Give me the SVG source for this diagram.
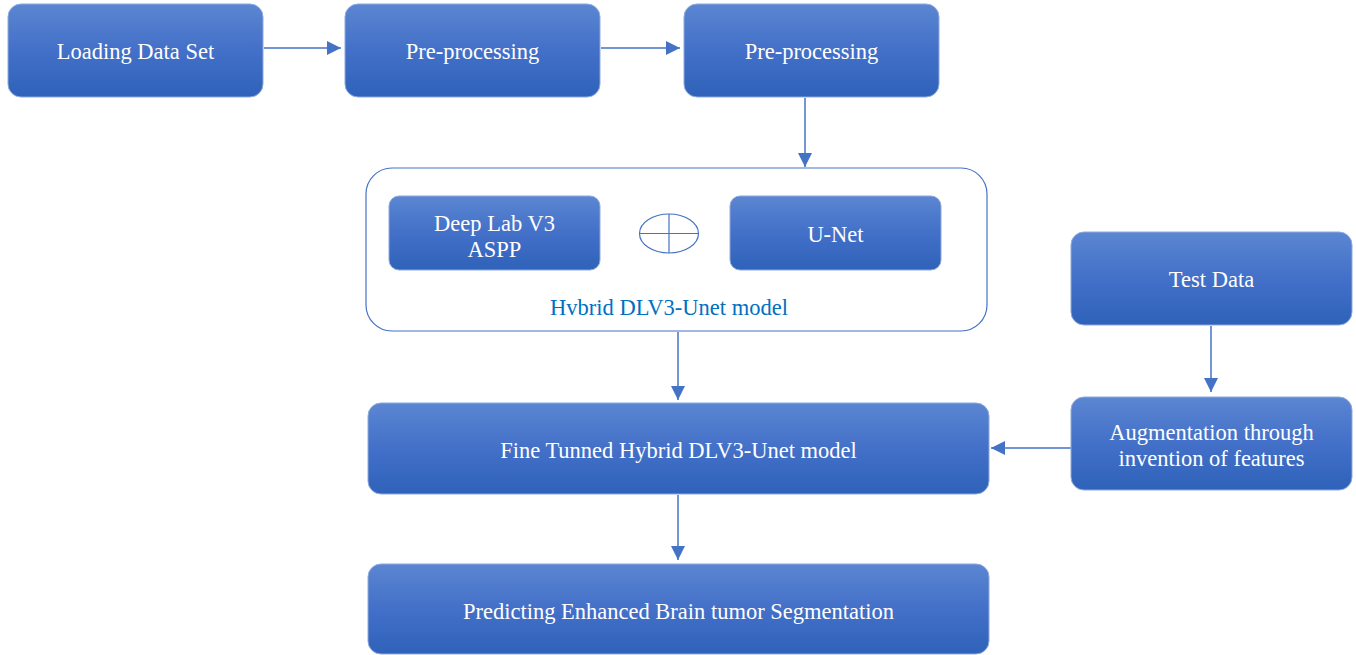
<svg xmlns="http://www.w3.org/2000/svg" width="1356" height="655" viewBox="0 0 1356 655">
<defs>
<linearGradient id="g" x1="0" y1="0" x2="0" y2="1">
<stop offset="0" stop-color="#5B86D2"/>
<stop offset="0.5" stop-color="#4370C8"/>
<stop offset="1" stop-color="#2F62BA"/>
</linearGradient>
<marker id="arr" viewBox="0 0 10 10" refX="10" refY="5" markerWidth="14" markerHeight="14" markerUnits="userSpaceOnUse" orient="auto">
<path d="M0,0 L10,5 L0,10 z" fill="#4472C4"/>
</marker>
<style>
.box{fill:url(#g);stroke:#8FA9DC;stroke-width:1}
.t{font-family:"Liberation Serif","Times New Roman",serif;font-size:22.5px;fill:#FFFFFF;text-anchor:middle}
.c{stroke:#4472C4;stroke-width:1.5;fill:none;marker-end:url(#arr)}
</style>
</defs>
<rect width="1356" height="655" fill="#FFFFFF"/>
<g id="connectors">
<line class="c" x1="264" y1="48" x2="341" y2="48"/>
<line class="c" x1="601" y1="48" x2="680" y2="48"/>
<line class="c" x1="805" y1="98" x2="805" y2="167"/>
<line class="c" x1="678" y1="332" x2="678" y2="400"/>
<line class="c" x1="1211" y1="326" x2="1211" y2="392"/>
<line class="c" x1="1071" y1="448" x2="991" y2="448"/>
<line class="c" x1="678" y1="495" x2="678" y2="560"/>
</g>
<g id="loading">
<rect class="box" x="8" y="4" width="255" height="93" rx="13"/>
<text class="t" x="135.5" y="59">Loading Data Set</text>
</g>
<g id="preproc1">
<rect class="box" x="345" y="4" width="255" height="93" rx="13"/>
<text class="t" x="472.5" y="59">Pre-processing</text>
</g>
<g id="preproc2">
<rect class="box" x="684" y="4" width="255" height="93" rx="13"/>
<text class="t" x="811.5" y="59">Pre-processing</text>
</g>
<g id="hybrid">
<rect x="366" y="168" width="621" height="163" rx="26" fill="#FFFFFF" stroke="#4472C4" stroke-width="1.2"/>
<text x="669" y="315" font-family="'Liberation Serif','Times New Roman',serif" font-size="22.5" fill="#0070C0" text-anchor="middle">Hvbrid DLV3-Unet model</text>
</g>
<g id="deeplab">
<rect class="box" x="389" y="196" width="211" height="74" rx="10"/>
<text class="t" x="494.5" y="231">Deep Lab V3</text>
<text class="t" x="494.5" y="257">ASPP</text>
</g>
<g id="plus">
<ellipse cx="669" cy="233.5" rx="29.5" ry="19.5" fill="#FFFFFF" stroke="#4472C4" stroke-width="1.2"/>
<line x1="639.5" y1="233.5" x2="698.5" y2="233.5" stroke="#4472C4" stroke-width="1.2"/>
<line x1="669" y1="214" x2="669" y2="253" stroke="#4472C4" stroke-width="1.2"/>
</g>
<g id="unet">
<rect class="box" x="730" y="196" width="211" height="74" rx="10"/>
<text class="t" x="835.5" y="242">U-Net</text>
</g>
<g id="testdata">
<rect class="box" x="1071" y="232" width="281" height="93" rx="13"/>
<text class="t" x="1211.5" y="287">Test Data</text>
</g>
<g id="augment">
<rect class="box" x="1071" y="397" width="281" height="93" rx="13"/>
<text class="t" x="1211.5" y="440">Augmentation through</text>
<text class="t" x="1211.5" y="466">invention of features</text>
</g>
<g id="finetuned">
<rect class="box" x="368" y="403" width="621" height="91" rx="13"/>
<text class="t" x="678.5" y="458">Fine Tunned Hybrid DLV3-Unet model</text>
</g>
<g id="predicting">
<rect class="box" x="368" y="564" width="621" height="90" rx="13"/>
<text class="t" x="678.5" y="619">Predicting Enhanced Brain tumor Segmentation</text>
</g>
</svg>
